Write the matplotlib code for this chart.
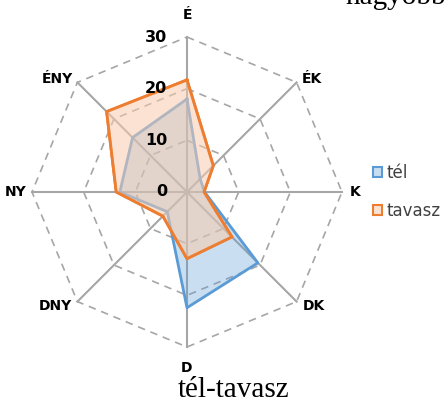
import numpy as np
import matplotlib
matplotlib.use("Agg")
import matplotlib.pyplot as plt
from matplotlib.patches import Patch

# wind direction frequencies, clockwise from north
directions = ['É', 'ÉK', 'K', 'DK', 'D', 'DNY', 'NY', 'ÉNY']
tel = [18.0, 3.6, 3.4, 19.4, 22.4, 5.4, 13.0, 14.9]
tavasz = [21.7, 7.2, 3.3, 12.3, 12.9, 6.6, 13.7, 22.0]
rings = [10, 20, 30]
tick_labels = ['0', '10', '20', '30']

blue = '#5B9BD5'
orange = '#ED7D31'
grid_col = '#A6A6A6'

fig = plt.figure(figsize=(4.47, 4.04), dpi=100)
ax = fig.add_axes([32 / 447, 57 / 404, 310 / 447, 310 / 404], projection='polar')
ax.set_theta_zero_location('N')
ax.set_theta_direction(-1)
ax.set_ylim(0, 30)
ax.axis('off')

n = len(directions)
theta = np.arange(n) * 2 * np.pi / n
closed = np.append(theta, theta[0])

# octagon gridlines and spokes
for r in rings:
    ax.plot(closed, [r] * (n + 1), color=grid_col, lw=1.2, ls=(0, (4.5, 3.5)),
            clip_on=False, zorder=1)
for t in theta:
    ax.plot([t, t], [0, 30], color=grid_col, lw=1.5, clip_on=False, zorder=1)

def series(vals, line_col, fill_col, alpha, z):
    v = np.append(vals, vals[0])
    ax.plot(closed, v, color=line_col, lw=2, clip_on=False, zorder=z)
    ax.fill(closed, v, color=fill_col, alpha=alpha, lw=0, zorder=z + 0.1)

series(tel, blue, blue, 0.33, 2)
# spring area is drawn on top and partly hides the winter outline
series(tavasz, orange, '#F8CBAD', 0.55, 3)
ax.plot(closed, np.append(tavasz, tavasz[0]), color=orange, lw=2,
        clip_on=False, zorder=4)

# radial scale on the north spoke
for r, lab in zip([0] + rings, tick_labels):
    ax.annotate(lab, xy=(0, r), xytext=(-20, 0), textcoords='offset pixels',
                ha='right', va='center', fontsize=11.5, fontweight='bold',
                color='black', zorder=5)

# direction names outside the outer ring
offsets = [(0, 22, 'center'), (5, 3, 'left'), (8, 0, 'left'), (6, -4, 'left'),
           (0, -21, 'center'), (-5, -4, 'right'), (-5, 0, 'right'), (-4, 3, 'right')]
for t, name, (dx, dy, ha) in zip(theta, directions, offsets):
    ax.annotate(name, xy=(t, 30), xytext=(dx, dy), textcoords='offset pixels',
                ha=ha, va='center', fontsize=10, fontweight='bold',
                color='black')

handles = [Patch(facecolor='#C9DDF0', edgecolor=blue, lw=1.5),
           Patch(facecolor='#FBE3D2', edgecolor=orange, lw=1.5)]
fig.legend(handles, ['tél', 'tavasz'], loc='center left',
           bbox_to_anchor=(373 / 447, 1 - 192 / 404), frameon=False,
           borderpad=0, borderaxespad=0,
           handlelength=0.55, handleheight=0.55, handletextpad=0.25,
           labelspacing=1.2, prop={'size': 12}, labelcolor='#404040')

fig.text(234 / 447, 1 - 397 / 404, 'tél-tavasz', ha='center', va='baseline',
         family='Liberation Serif', fontsize=21)
fig.text(345 / 447, 1 - 3.5 / 404, 'nagyobb', ha='left', va='baseline',
         family='Liberation Serif', fontsize=21)

fig.savefig('out.png', dpi=100)
